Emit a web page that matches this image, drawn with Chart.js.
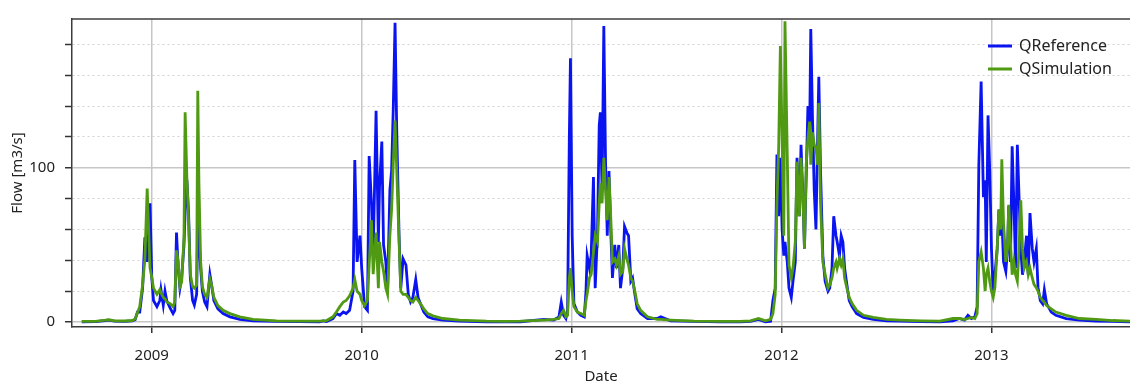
<!DOCTYPE html>
<html>
<head>
<meta charset="utf-8">
<script src="https://cdn.jsdelivr.net/npm/chart.js@4/dist/chart.umd.min.js"></script>
<style>
  html, body { margin: 0; padding: 0; background: #fff; }
  canvas { display: block; }
</style>
</head>
<body>
<canvas id="flow-chart" width="1130" height="387"></canvas>
<script>
const dates = [
  '2008-09-01','2008-09-25','2008-10-12','2008-10-18','2008-10-28','2008-11-15','2008-11-28',
  '2008-12-03','2008-12-07','2008-12-11','2008-12-16','2008-12-20','2008-12-24','2008-12-29',
  '2009-01-01','2009-01-04','2009-01-10','2009-01-15','2009-01-17','2009-01-21','2009-01-24','2009-01-27',
  '2009-02-02','2009-02-07','2009-02-10','2009-02-13','2009-02-16','2009-02-19','2009-02-22','2009-02-26','2009-02-28',
  '2009-03-03','2009-03-06','2009-03-09','2009-03-13','2009-03-16','2009-03-20','2009-03-22','2009-03-24','2009-03-27','2009-03-30',
  '2009-04-03','2009-04-07','2009-04-12','2009-04-15','2009-04-19','2009-04-26','2009-05-05','2009-05-17',
  '2009-06-03','2009-06-26','2009-08-06','2009-09-15','2009-10-20','2009-10-26','2009-11-01',
  '2009-11-12','2009-11-18','2009-11-24','2009-11-30','2009-12-05','2009-12-11','2009-12-17','2009-12-20','2009-12-24','2009-12-29',
  '2010-01-01','2010-01-06','2010-01-11','2010-01-14','2010-01-18','2010-01-21','2010-01-26','2010-01-30',
  '2010-02-01','2010-02-05','2010-02-08','2010-02-12','2010-02-15','2010-02-19','2010-02-22','2010-02-25','2010-02-28',
  '2010-03-03','2010-03-07','2010-03-10','2010-03-14','2010-03-19','2010-03-23','2010-03-27','2010-03-31',
  '2010-04-05','2010-04-09','2010-04-13','2010-04-19','2010-04-26','2010-05-05','2010-05-22','2010-06-20',
  '2010-08-06','2010-09-10','2010-10-04','2010-11-14','2010-12-01','2010-12-10','2010-12-14','2010-12-18',
  '2010-12-22','2010-12-25','2010-12-28','2010-12-30',
  '2011-01-02','2011-01-05','2011-01-11','2011-01-17','2011-01-23','2011-01-26','2011-01-28',
  '2011-02-01','2011-02-04','2011-02-08','2011-02-11','2011-02-15','2011-02-18','2011-02-20','2011-02-23','2011-02-26',
  '2011-03-01','2011-03-04','2011-03-07','2011-03-10','2011-03-13','2011-03-17','2011-03-20','2011-03-24','2011-03-27','2011-03-31',
  '2011-04-03','2011-04-07','2011-04-10','2011-04-14','2011-04-17','2011-04-21','2011-04-25',
  '2011-05-01','2011-05-13','2011-05-30','2011-06-05','2011-06-22','2011-08-02','2011-09-17',
  '2011-10-21','2011-11-08','2011-11-22','2011-12-04','2011-12-13','2011-12-17','2011-12-21','2011-12-24','2011-12-27','2011-12-30',
  '2012-01-02','2012-01-05','2012-01-07','2012-01-11','2012-01-14','2012-01-18','2012-01-21','2012-01-25','2012-01-28',
  '2012-02-01','2012-02-04','2012-02-08','2012-02-10','2012-02-13','2012-02-16','2012-02-19','2012-02-21','2012-02-24','2012-02-27',
  '2012-03-01','2012-03-04','2012-03-06','2012-03-09','2012-03-13','2012-03-17','2012-03-22','2012-03-25','2012-03-29',
  '2012-04-01','2012-04-05','2012-04-07','2012-04-11','2012-04-14','2012-04-17','2012-04-20','2012-04-24','2012-04-28',
  '2012-05-03','2012-05-11','2012-05-23','2012-06-09','2012-07-02','2012-07-25','2012-09-01',
  '2012-10-03','2012-10-26','2012-11-06','2012-11-15','2012-11-21','2012-11-27',
  '2012-12-03','2012-12-07','2012-12-10','2012-12-14','2012-12-18','2012-12-21','2012-12-23','2012-12-26','2012-12-29',
  '2013-01-01','2013-01-04','2013-01-07','2013-01-11','2013-01-14','2013-01-17','2013-01-19','2013-01-22','2013-01-26','2013-01-29','2013-01-31',
  '2013-02-03','2013-02-06','2013-02-09','2013-02-12','2013-02-15','2013-02-18','2013-02-21','2013-02-24','2013-02-27',
  '2013-03-03','2013-03-06','2013-03-09','2013-03-13','2013-03-16','2013-03-20','2013-03-23','2013-03-27','2013-03-31',
  '2013-04-03','2013-04-07','2013-04-15','2013-04-23','2013-05-11','2013-06-03','2013-07-02','2013-07-31','2013-08-29','2013-09-10'
];

// observed flow [m3/s]
const qReference = [
  0.2,0.3,1.0,1.3,0.6,0.5,0.8,
  1.5,6.5,6.5,22,55,39,77,
  29,14,10,14,21,11,20,14,
  9,5.5,7.6,58,35,22,29,50,71,
  92,71,29,14,11,18,64,56,35,20,
  13,10,31,24,14,8.6,5.5,3.4,
  1.7,0.8,0.4,0.3,0.2,0.8,0.4,
  2.3,5.5,4.4,6.5,5.5,7.6,20,105,39,56,
  35,10,7.6,107.6,77,43,137,52,
  87.6,117,50,39,20,85.5,98,140,194,
  123,56,22,41,37,18,13,16,
  27.6,16,12,6.5,3.4,2.3,1.3,0.6,
  0.2,0.2,0.2,1.7,1.3,3.4,13,4.4,
  2.3,7.6,119,171,
  56,12,6.5,4.4,3.4,20,43,
  35,43,94,22,58,127.6,136,85.5,192,
  104,56,98,60,28.6,50,35,50,22,35,
  62,58,56,26.5,28.6,18,8.6,
  5.5,2.3,2.3,3.4,0.8,0.4,0.2,
  0.2,0.4,1.7,0.2,0.6,14,22,108.6,68.6,106.5,
  60,43,52,39,22,16,26.5,39,106.5,
  68.6,115,73,47.6,94,140,123,190,132,85.5,
  60,119,159,98,43,26.5,20,22,35,
  68.6,56,52,43,56,52,35,24,14,
  10,5.5,3,1.7,0.8,0.6,0.3,
  0.2,0.8,2.3,1.3,4.4,2.3,
  3.4,9.7,102,156,81,92,39,134,98,
  47.6,20,30.7,47.6,73,56,68.6,39,32.8,47.6,75,
  39,114,77,35,115,81,47.6,30.7,39,
  56,30.7,70.7,47.6,39,47.6,22.3,13.9,11.8,
  21,11.8,6.5,4.4,2.3,1.3,0.6,0.4,0.2,0.2
];

// simulated flow [m3/s]
const qSimulation = [
  0.4,0.5,1.2,1.5,0.8,0.7,1.0,
  2.0,6,10,24,41,86.5,35,
  29,22,18,21,19,16,15,13,
  12,10,13,46.5,39,23,26,55,136,
  94,66,31,23,22,24,150,90,39,23,
  18,16,28,24,16,10.7,7.6,5.5,
  3.4,1.7,0.8,0.6,0.6,0.8,1.0,
  3.4,6.5,10,13,14,17,22,27.6,20,18,
  14,10.7,14,37,66,31,58,22,
  52,39,33,22,18,56,73,104,130.7,
  98,52,20,18,18,16,14,13,
  16,14,12,8.6,5.5,4,2.3,1.3,
  0.6,0.5,0.6,1.3,1.7,2.3,5.5,7.6,
  3.4,4.4,28.6,35,
  20,10,6.5,5.5,4.4,14,18,
  28.6,31,45,56,52,77,90,77,106.5,
  85,66,94,68.6,39,41,37,43,31,33,
  47.6,41,37,28.6,26.5,20,12,
  7.6,3.4,1.7,1.7,1.3,0.6,0.4,
  0.4,0.8,2.3,0.8,1.7,5.5,18,77,112.8,179,
  119,56,195,108.6,37,28.6,35,52,104,
  68.6,106.5,73,47.6,102,119,130,102,123,115,
  113,102,142,77,39,31,22,24,28.6,
  35,39,35,41,37,41,28.6,22,16,
  12,7.6,4.4,3,1.7,1.3,0.8,
  0.6,2.3,2.3,1.7,2.3,3,
  2.3,5.5,39,45.5,35,20,30.7,35,26.5,
  20,16,22.3,47.6,73,60,105.5,64,39,47.6,76,
  52,30.7,39,30.7,26.5,47.6,79,47.6,35,
  39,30.7,35,28.6,24.4,22.3,20,16,13.9,
  12.8,10.7,8.6,6.5,4.4,2.3,1.7,1.0,0.6,0.5
];

const yearTicks = [2009, 2010, 2011, 2012, 2013];
const flowTicks = [0, 20, 40, 60, 80, 100, 120, 140, 160, 180];
const labeledFlowTicks = [0, 100];

// date string -> fractional year, so a linear x scale can be used
function toYear(s) {
  const [y, m, d] = s.split('-').map(Number);
  const start = Date.UTC(y, 0, 1);
  const end = Date.UTC(y + 1, 0, 1);
  return y + (Date.UTC(y, m - 1, d) - start) / (end - start);
}

const xs = dates.map(toYear);
const toPoints = vals => vals.map((v, i) => ({ x: xs[i], y: v }));

const FONT = "'Noto Sans', 'Open Sans', sans-serif";
const TEXT = '#222';

// frame line on top of the plot + legend inside the plot area
const framePlugin = {
  id: 'frameAndLegend',
  afterDraw(chart) {
    const { ctx, chartArea } = chart;
    ctx.save();
    ctx.strokeStyle = '#3c3c3c';
    ctx.lineWidth = 1.5;
    ctx.beginPath();
    ctx.moveTo(chartArea.left, chartArea.top);
    ctx.lineTo(chartArea.right, chartArea.top);
    ctx.stroke();

    ctx.font = '16px ' + FONT;
    ctx.textBaseline = 'middle';
    ctx.fillStyle = TEXT;
    chart.data.datasets.forEach((ds, i) => {
      const y = 46 + i * 23;
      ctx.strokeStyle = ds.borderColor;
      ctx.lineWidth = 3;
      ctx.beginPath();
      ctx.moveTo(988, y);
      ctx.lineTo(1012, y);
      ctx.stroke();
      ctx.fillText(ds.label, 1019, y);
    });
    ctx.restore();
  }
};

const ctx = document.getElementById('flow-chart').getContext('2d');
const chart = new Chart(ctx, {
  type: 'line',
  data: {
    datasets: [
      {
        label: 'QReference',
        data: toPoints(qReference),
        borderColor: '#0a14f0',
        borderWidth: 2.8,
        pointRadius: 0,
        tension: 0,
        order: 1
      },
      {
        label: 'QSimulation',
        data: toPoints(qSimulation),
        borderColor: '#4f9a12',
        borderWidth: 2.8,
        pointRadius: 0,
        tension: 0,
        order: 0
      }
    ]
  },
  options: {
    responsive: false,
    animation: false,
    layout: { padding: { top: 11, right: 0, bottom: 0, left: 0 } },
    plugins: {
      legend: { display: false },
      tooltip: { enabled: false }
    },
    scales: {
      x: {
        type: 'linear',
        min: 2008.62,
        max: 2013.66,
        afterBuildTicks: s => { s.ticks = yearTicks.map(v => ({ value: v })); },
        afterFit: s => { s.height = 60; },
        ticks: {
          callback: v => String(v),
          color: TEXT,
          font: { family: FONT, size: 15 },
          padding: 14,
          maxRotation: 0
        },
        grid: {
          color: '#c6c6c6',
          lineWidth: 1.5,
          tickColor: '#333',
          tickLength: 6,
          tickWidth: 1.5
        },
        border: { color: '#3c3c3c', width: 1.5 },
        title: {
          display: true,
          text: 'Date',
          color: TEXT,
          font: { family: FONT, size: 15 },
          padding: { top: 0, bottom: 1 }
        }
      },
      y: {
        min: -3.2,
        max: 196.5,
        afterBuildTicks: s => { s.ticks = flowTicks.map(v => ({ value: v })); },
        afterFit: s => { s.width = 72; },
        ticks: {
          callback: v => labeledFlowTicks.includes(v) ? String(v) : '',
          color: TEXT,
          font: { family: FONT, size: 15 },
          padding: 10
        },
        grid: {
          color: c => (c.tick && labeledFlowTicks.includes(c.tick.value)) ? '#c6c6c6' : '#d2d2d2',
          lineWidth: c => (c.tick && labeledFlowTicks.includes(c.tick.value)) ? 1.5 : 1,
          tickColor: '#333',
          tickLength: 7,
          tickWidth: 1.5
        },
        border: {
          color: '#3c3c3c',
          width: 1.5,
          dash: c => (c.tick && !labeledFlowTicks.includes(c.tick.value)) ? [2, 3] : []
        },
        title: {
          display: true,
          text: 'Flow [m3/s]',
          color: TEXT,
          font: { family: FONT, size: 15 },
          padding: { top: 9, bottom: 0 }
        }
      }
    }
  },
  plugins: [framePlugin]
});
</script>
</body>
</html>
